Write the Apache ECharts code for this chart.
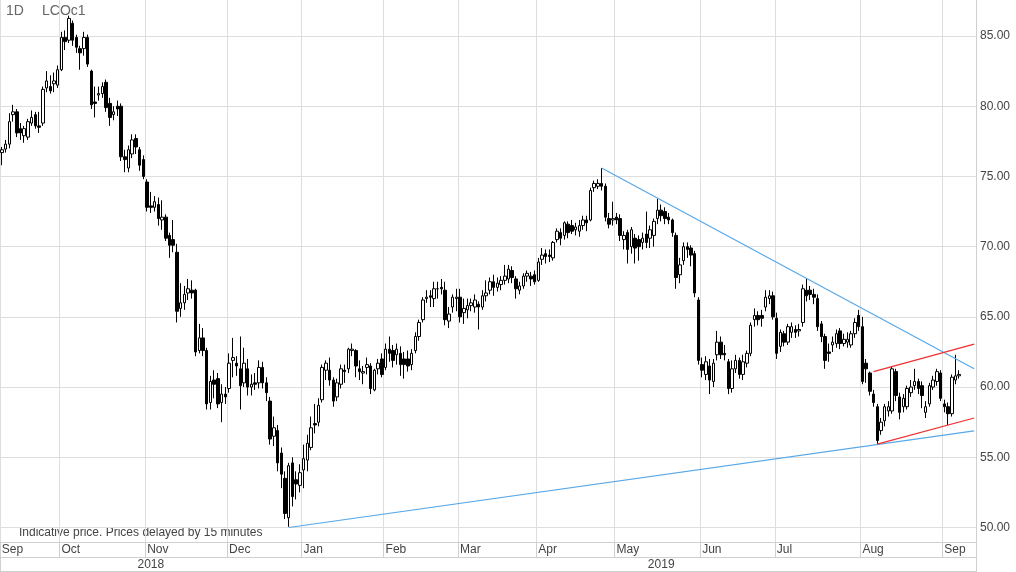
<!DOCTYPE html>
<html><head><meta charset="utf-8">
<script src="https://cdn.jsdelivr.net/npm/echarts/dist/echarts.min.js"></script>
<style>html,body{margin:0;padding:0;background:#fff}#c{width:1016px;height:572px}</style>
</head><body><div id="c"></div>
<script>
// [date, open, close, low, high]
const sep18 = [
['2018-09-07',76.7,76.9,75.8,77.1],['2018-09-10',76.95,77.3,76.7,77.6],['2018-09-11',77.3,78.9,77.0,79.5],
['2018-09-12',79.4,79.6,78.9,80.1],['2018-09-13',79.6,78.1,77.8,79.8],['2018-09-14',78.4,78.1,77.6,78.8],
['2018-09-17',77.9,78.4,77.4,78.6],['2018-09-18',77.8,78.9,77.6,79.1],['2018-09-19',78.8,79.2,78.6,79.7],
['2018-09-20',79.4,78.6,78.4,79.6],['2018-09-21',78.6,78.5,78.1,79.6],['2018-09-24',78.8,81.2,78.6,81.4],
['2018-09-25',81.3,81.8,81.0,82.5],['2018-09-26',81.4,81.1,80.9,82.2],['2018-09-27',81.6,81.8,81.0,82.4],
['2018-09-28',81.5,82.6,81.3,82.9]];
const oct18 = [
['2018-10-01',82.6,84.9,82.5,85.3],['2018-10-02',84.9,84.6,84.0,85.4],['2018-10-03',84.7,86.25,84.5,86.45],
['2018-10-04',85.9,84.7,84.3,86.1],['2018-10-05',84.9,84.2,83.8,85.1],['2018-10-08',84.1,83.8,82.6,84.3],
['2018-10-09',84.1,84.9,83.6,85.3],['2018-10-10',84.9,83.0,82.8,85.1],['2018-10-11',82.5,80.1,79.8,82.6],
['2018-10-12',80.3,80.2,79.2,81.4],['2018-10-15',80.8,80.9,80.4,81.4],['2018-10-16',80.9,81.4,80.6,81.7],
['2018-10-17',81.7,79.9,79.6,81.9],['2018-10-18',80.2,79.2,78.6,80.6],['2018-10-19',79.4,79.6,79.0,80.0],
['2018-10-22',80.0,79.8,79.3,80.4],['2018-10-23',80.0,76.4,76.1,80.2],['2018-10-24',76.4,76.2,75.3,76.9],
['2018-10-25',75.6,76.9,75.3,77.2],['2018-10-26',76.6,77.6,76.3,78.0],['2018-10-29',77.7,77.1,76.6,78.0],
['2018-10-30',76.9,75.8,75.4,77.1],['2018-10-31',76.2,75.0,74.8,76.5]];
const nov18 = [
['2018-11-01',74.6,72.8,72.5,74.8],['2018-11-02',72.9,72.8,72.4,73.9],['2018-11-05',72.8,73.2,72.5,73.6],
['2018-11-06',73.0,72.0,71.5,73.5],['2018-11-07',71.9,72.1,71.2,73.3],['2018-11-08',72.1,70.6,70.4,72.3],
['2018-11-09',70.8,70.1,69.2,71.0],['2018-11-12',70.5,70.1,69.6,71.9],['2018-11-13',69.6,65.4,64.6,70.2],
['2018-11-14',65.6,66.0,65.0,67.4],['2018-11-15',66.0,66.6,65.5,67.2],['2018-11-16',66.7,67.0,66.2,67.7],
['2018-11-19',66.9,66.7,66.3,67.6],['2018-11-20',66.9,62.5,62.2,67.0],['2018-11-21',62.6,63.5,62.4,64.5],
['2018-11-22',63.5,62.6,62.2,64.2],['2018-11-23',62.6,58.8,58.4,62.8],['2018-11-26',58.9,60.4,58.4,60.8],
['2018-11-27',60.5,60.2,59.2,61.2],['2018-11-28',60.6,58.8,58.5,61.0],['2018-11-29',58.9,59.5,57.5,60.2],
['2018-11-30',59.5,59.3,58.8,60.0]];
const dec18 = [
['2018-12-03',59.9,61.7,59.6,62.4],['2018-12-04',61.9,62.1,60.7,63.5],['2018-12-05',61.7,61.5,60.8,62.2],
['2018-12-06',61.3,60.1,58.4,63.6],['2018-12-07',60.3,61.7,60.0,62.8],['2018-12-10',61.3,60.0,59.4,62.0],
['2018-12-11',60.0,60.2,59.4,60.9],['2018-12-12',60.3,60.2,59.8,61.0],['2018-12-13',60.3,61.4,59.9,61.9],
['2018-12-14',61.4,60.3,59.9,61.8],['2018-12-17',60.3,59.6,59.0,60.7],['2018-12-18',59.0,56.3,55.9,59.3],
['2018-12-19',56.5,57.1,55.8,57.9],['2018-12-20',56.9,54.6,54.0,57.3],['2018-12-21',55.3,53.8,52.8,55.7],
['2018-12-24',53.5,51.0,50.6,54.0],['2018-12-26',50.7,54.4,50.05,54.6],['2018-12-27',54.6,52.2,51.5,55.0],
['2018-12-28',53.4,53.1,52.0,54.0],['2018-12-31',53.0,53.9,52.5,54.5]];
const jan19 = [
['2019-01-02',54.1,54.9,52.8,55.9],['2019-01-03',54.8,56.0,54.0,56.6],['2019-01-04',55.7,57.1,55.5,57.9],
['2019-01-07',57.4,57.3,56.7,58.8],['2019-01-08',57.5,58.7,57.2,59.2],['2019-01-09',59.1,61.4,58.9,61.6],
['2019-01-10',61.2,61.7,60.5,61.9],['2019-01-11',61.2,60.5,60.1,62.1],['2019-01-14',60.5,59.0,58.6,60.7],
['2019-01-15',59.3,60.3,59.0,60.6],['2019-01-16',60.2,61.3,59.9,61.6],['2019-01-17',61.2,61.1,60.3,61.6],
['2019-01-18',61.3,62.7,61.0,62.8],['2019-01-21',62.6,62.7,62.2,63.1],['2019-01-22',62.6,61.5,60.7,62.7],
['2019-01-23',61.3,61.1,60.5,61.9],['2019-01-24',61.0,61.1,60.2,61.5],['2019-01-25',61.4,61.6,60.9,62.1],
['2019-01-28',61.5,59.9,59.5,61.7],['2019-01-29',59.8,61.2,59.7,61.3],['2019-01-30',61.3,61.7,60.9,62.0],
['2019-01-31',62.0,60.9,60.7,62.4]];
const feb19 = [
['2019-02-01',61.4,62.7,61.2,63.1],['2019-02-04',62.7,62.4,61.8,63.6],['2019-02-05',62.6,61.9,61.4,63.0],
['2019-02-06',62.3,62.7,61.6,63.1],['2019-02-07',62.4,61.6,60.8,62.9],['2019-02-08',62.0,61.6,60.6,62.5],
['2019-02-11',62.0,61.5,61.1,62.6],['2019-02-12',61.6,62.4,61.2,62.7],['2019-02-13',62.6,63.6,62.4,63.9],
['2019-02-14',63.6,64.6,63.3,64.8],['2019-02-15',64.8,66.2,64.6,66.4],['2019-02-18',66.3,66.4,66.0,66.9],
['2019-02-19',66.5,66.4,65.7,66.9],['2019-02-20',66.3,67.0,65.7,67.5],['2019-02-21',67.0,67.0,66.3,67.5],
['2019-02-22',67.1,67.0,66.6,67.7],['2019-02-25',66.9,64.8,64.4,67.5],['2019-02-26',64.7,65.2,64.2,65.7],
['2019-02-27',65.7,66.4,65.3,66.6],['2019-02-28',66.3,66.4,65.4,67.0]];
const mar19 = [
['2019-03-01',66.4,65.0,64.6,67.0],['2019-03-04',65.3,65.6,64.5,66.3],['2019-03-05',65.5,65.8,64.9,66.3],
['2019-03-06',65.8,66.0,65.4,66.3],['2019-03-07',65.7,66.2,65.3,66.6],['2019-03-08',65.9,65.7,64.1,66.1],
['2019-03-11',65.7,66.5,65.5,66.9],['2019-03-12',66.5,66.7,66.1,67.6],['2019-03-13',66.9,67.5,66.6,67.8],
['2019-03-14',67.5,67.1,66.5,68.0],['2019-03-15',67.1,67.4,66.8,67.8],['2019-03-18',67.3,67.6,66.9,67.9],
['2019-03-19',67.6,67.9,67.3,68.7],['2019-03-20',67.7,68.4,67.4,68.7],['2019-03-21',68.3,67.8,67.4,68.6],
['2019-03-22',67.7,67.0,66.3,67.9],['2019-03-25',66.9,67.2,66.6,67.5],['2019-03-26',67.2,67.9,67.0,68.1],
['2019-03-27',67.9,68.1,67.5,68.3],['2019-03-28',67.9,67.7,67.2,68.2],['2019-03-29',68.0,67.5,67.3,68.3]];
const apr19 = [
['2019-04-01',67.6,68.9,67.5,69.2],['2019-04-02',69.1,69.4,68.7,69.9],['2019-04-03',69.5,69.3,68.8,69.8],
['2019-04-04',69.4,69.3,68.9,69.8],['2019-04-05',69.2,70.3,69.0,70.4],['2019-04-08',70.5,71.1,70.3,71.3],
['2019-04-09',71.0,70.6,70.1,71.3],['2019-04-10',70.8,71.7,70.5,71.8],['2019-04-11',71.6,71.0,70.6,71.8],
['2019-04-12',71.5,71.1,70.9,71.9],['2019-04-15',71.2,71.4,70.8,71.7],['2019-04-16',71.1,71.5,70.7,71.9],
['2019-04-17',71.5,71.9,71.2,72.2],['2019-04-18',71.9,71.7,71.1,72.2],['2019-04-22',71.9,74.0,71.8,74.2],
['2019-04-23',74.2,74.5,73.9,74.7],['2019-04-24',74.3,74.5,74.1,74.8],['2019-04-25',74.5,74.3,74.0,75.6],
['2019-04-26',74.3,72.1,71.8,74.5],['2019-04-29',72.0,71.6,71.3,72.4],['2019-04-30',71.9,72.0,71.5,73.2]];
const may19 = [
['2019-05-01',72.1,71.9,71.6,72.4],['2019-05-02',72.0,70.8,70.4,72.3],['2019-05-03',70.5,70.8,69.8,71.1],
['2019-05-06',71.0,69.8,68.8,71.2],['2019-05-07',70.0,71.2,69.5,71.4],['2019-05-08',70.6,69.9,68.8,70.9],
['2019-05-09',70.5,70.0,69.0,70.8],['2019-05-10',70.3,70.6,69.8,71.0],['2019-05-13',70.9,70.3,69.9,72.5],
['2019-05-14',70.6,71.2,69.9,71.5],['2019-05-15',70.8,71.8,70.0,72.0],['2019-05-16',72.0,72.6,71.6,73.4],
['2019-05-17',72.6,72.2,71.8,73.0],['2019-05-20',72.5,72.0,71.6,72.8],['2019-05-21',72.1,71.9,71.6,72.4],
['2019-05-22',71.9,71.0,70.7,72.0],['2019-05-23',70.8,67.8,67.0,71.0],['2019-05-24',68.0,68.7,67.4,69.2],
['2019-05-27',69.0,70.0,68.7,70.3],['2019-05-28',70.0,69.8,69.2,70.3],['2019-05-29',69.9,69.4,68.6,70.1],
['2019-05-30',69.5,66.7,66.4,69.7],['2019-05-31',66.2,61.9,61.6,66.4]];
const jun19 = [
['2019-06-03',61.6,61.2,60.7,62.1],['2019-06-04',60.9,61.8,60.5,62.2],['2019-06-05',61.5,60.5,59.5,62.0],
['2019-06-06',60.4,61.7,60.0,62.0],['2019-06-07',62.3,63.2,61.9,64.0],['2019-06-10',63.2,62.3,62.0,63.6],
['2019-06-11',62.4,62.3,61.9,63.0],['2019-06-12',61.8,59.9,59.5,62.0],['2019-06-13',59.9,61.3,59.6,61.9],
['2019-06-14',61.3,61.9,61.0,62.3],['2019-06-17',61.9,60.9,60.6,62.1],['2019-06-18',60.9,61.8,60.5,62.3],
['2019-06-19',61.7,62.4,61.4,62.6],['2019-06-20',62.4,64.4,62.2,64.6],['2019-06-21',64.8,65.1,64.3,65.6],
['2019-06-24',65.1,64.8,64.4,65.4],['2019-06-25',65.1,64.9,64.3,65.5],['2019-06-26',65.7,66.4,65.4,66.9],
['2019-06-27',66.3,66.5,65.9,66.9],['2019-06-28',66.5,65.0,64.8,66.8]];
const jul19 = [
['2019-07-01',64.9,62.4,62.0,65.3],['2019-07-02',62.9,63.9,62.5,64.1],['2019-07-03',63.8,63.2,62.9,64.0],
['2019-07-04',63.2,64.3,63.0,64.5],['2019-07-05',63.9,64.3,63.5,64.6],['2019-07-08',64.1,63.9,63.5,64.4],
['2019-07-09',64.0,64.1,63.6,64.5],['2019-07-10',64.6,67.0,64.3,67.3],['2019-07-11',66.9,66.5,66.1,67.7],
['2019-07-12',66.9,66.6,66.2,67.2],['2019-07-15',66.6,66.4,65.9,67.0],['2019-07-16',66.3,64.3,64.0,66.6],
['2019-07-17',64.5,63.6,63.2,64.7],['2019-07-18',63.6,61.9,61.3,63.8],['2019-07-19',62.5,62.4,61.8,63.1],
['2019-07-22',63.0,63.2,62.5,63.6],['2019-07-23',63.1,63.8,62.8,64.1],['2019-07-24',64.0,63.1,62.7,64.2],
['2019-07-25',63.1,63.4,62.9,63.8],['2019-07-26',63.2,63.4,62.8,63.9],['2019-07-29',63.0,63.8,62.8,64.0],
['2019-07-30',63.8,64.6,63.5,64.9],['2019-07-31',65.1,64.3,64.0,65.5]];
const aug19 = [
['2019-08-01',64.3,60.4,60.2,65.0],['2019-08-02',61.7,61.3,60.3,62.0],['2019-08-05',61.0,59.7,59.4,61.1],
['2019-08-06',59.5,58.9,58.6,59.8],['2019-08-07',58.6,56.2,55.95,58.8],['2019-08-08',56.9,57.5,56.6,57.8],
['2019-08-09',57.6,58.6,57.2,58.8],['2019-08-12',58.3,58.6,57.9,59.0],['2019-08-13',58.3,61.3,58.1,61.45],
['2019-08-14',61.1,59.4,59.0,61.3],['2019-08-15',59.3,58.2,57.7,59.6],['2019-08-16',58.6,59.2,58.2,59.5],
['2019-08-19',58.6,59.9,58.4,60.1],['2019-08-20',59.6,60.0,59.3,60.5],['2019-08-21',60.1,60.4,59.8,61.3],
['2019-08-22',60.4,59.9,59.5,60.6],['2019-08-23',60.1,59.4,58.5,60.4],['2019-08-26',58.2,58.6,57.8,59.0],
['2019-08-27',58.8,60.1,58.6,60.3],['2019-08-28',60.0,60.5,59.8,60.8],['2019-08-29',60.4,61.1,60.1,61.3],
['2019-08-30',61.0,59.2,59.0,61.2]];
const sep19 = [
['2019-09-02',58.8,58.6,58.2,59.1],['2019-09-03',58.6,58.1,57.3,58.9],['2019-09-04',58.1,60.7,57.9,60.9],
['2019-09-05',60.5,60.8,60.2,62.3],['2019-09-06',60.8,60.9,60.6,61.2]];
const futureDates = ['2019-09-09','2019-09-10','2019-09-11','2019-09-12'];

// trend lines: [date, value] endpoints
const trendBlueUpper = [['2019-04-25',75.6],['2019-09-12',61.3]];
const trendBlueLower = [['2018-12-26',50.0],['2019-09-12',56.88]];
const trendRedUpper  = [['2019-08-06',61.1],['2019-09-12',63.06]];
const trendRedLower  = [['2019-08-07',55.94],['2019-09-12',57.8]];

const monthNames = ['Jan','Feb','Mar','Apr','May','Jun','Jul','Aug','Sep','Oct','Nov','Dec'];
const yearLabels = {'2018-11-02':'2018','2019-05-17':'2019'};
const yMin = 48.967, yMax = 87.564;

const rows = [].concat(sep18,oct18,nov18,dec18,jan19,feb19,mar19,apr19,may19,jun19,jul19,aug19,sep19);
const dates = rows.map(r=>r[0]).concat(futureDates);
const ohlc = rows.map(r=>[r[1],r[2],r[3],r[4]]);
const monthStart = dates.map((d,i)=> i===0 || d.slice(5,7)!==dates[i-1].slice(5,7));
const yearStart = dates.map((d,i)=> i>0 && d.slice(0,4)!==dates[i-1].slice(0,4));

const FONT = 'Liberation Sans, Arial, sans-serif';
const GRID = '#dedede', FRAME = '#d0d0d0';

const chart = echarts.init(document.getElementById('c'), null, {renderer:'canvas'});
const tl = (pts, color) => [{coord: pts[0], lineStyle:{color:color, width:1.2, type:'solid'}}, {coord: pts[1]}];
chart.setOption({
  animation:false,
  backgroundColor:'#fff',
  grid:{left:0,right:40,top:0,bottom:30,containLabel:false,outerBoundsMode:'none'},
  xAxis:[
    {type:'category',data:dates,position:'bottom',boundaryGap:true,
     axisLine:{show:true,onZero:false,lineStyle:{color:FRAME}},
     axisTick:{show:true,length:15,interval:(i)=>monthStart[i],lineStyle:{color:FRAME}},
     axisLabel:{show:true,interval:(i)=>monthStart[i],formatter:(v)=>monthNames[+v.slice(5,7)-1],
       align:'left',margin:2,fontSize:12,color:'#444',fontFamily:FONT},
     splitLine:{show:true,interval:(i)=>monthStart[i],lineStyle:{color:GRID}}},
    {type:'category',data:dates,position:'bottom',offset:15,boundaryGap:true,
     axisLine:{show:true,onZero:false,lineStyle:{color:FRAME}},
     axisTick:{show:true,length:15,interval:(i)=>yearStart[i],lineStyle:{color:FRAME}},
     axisLabel:{show:true,interval:(i,v)=>!!yearLabels[v],formatter:(v)=>yearLabels[v]||'',
       align:'center',margin:2,fontSize:12,color:'#444',fontFamily:FONT},
     splitLine:{show:false}},
    {type:'category',data:dates,position:'bottom',offset:29,boundaryGap:true,
     axisLine:{show:true,onZero:false,lineStyle:{color:FRAME}},
     axisTick:{show:false},axisLabel:{show:false},splitLine:{show:false}}
  ],
  yAxis:{type:'value',position:'right',min:yMin,max:yMax,splitNumber:8,scale:true,
    axisLine:{show:true,lineStyle:{color:FRAME}},axisTick:{show:false},
    axisLabel:{margin:4,fontSize:12,color:'#444',fontFamily:FONT,
      formatter:(v)=> Math.abs(v/5-Math.round(v/5))<1e-6 ? v.toFixed(2) : ''},
    splitLine:{show:true,showMaxLine:false,lineStyle:{color:GRID}}},
  graphic:[
    {type:'text',left:6,top:4,style:{text:'1D',font:'14px '+FONT,fill:'#666'}},
    {type:'text',left:42,top:4,style:{text:'LCOc1',font:'14px '+FONT,fill:'#666'}},
    {type:'text',left:19,top:527,style:{text:'Indicative price. Prices delayed by 15 minutes',font:'12px '+FONT,fill:'#444'}},
    {type:'line',shape:{x1:976.5,y1:542,x2:976.5,y2:571},style:{stroke:FRAME,lineWidth:1}}
  ],
  series:[{
    type:'candlestick',data:ohlc,barWidth:3,
    itemStyle:{color:'#ffffff',color0:'#000000',borderColor:'#000000',borderColor0:'#000000',borderWidth:1},
    markLine:{symbol:['none','none'],silent:true,animation:false,label:{show:false},
      emphasis:{disabled:true},
      data:[tl(trendBlueUpper,'#58a8e8'),tl(trendBlueLower,'#58a8e8'),tl(trendRedUpper,'#f03030'),tl(trendRedLower,'#f03030')]}
  }]
});
</script>
</body></html>
